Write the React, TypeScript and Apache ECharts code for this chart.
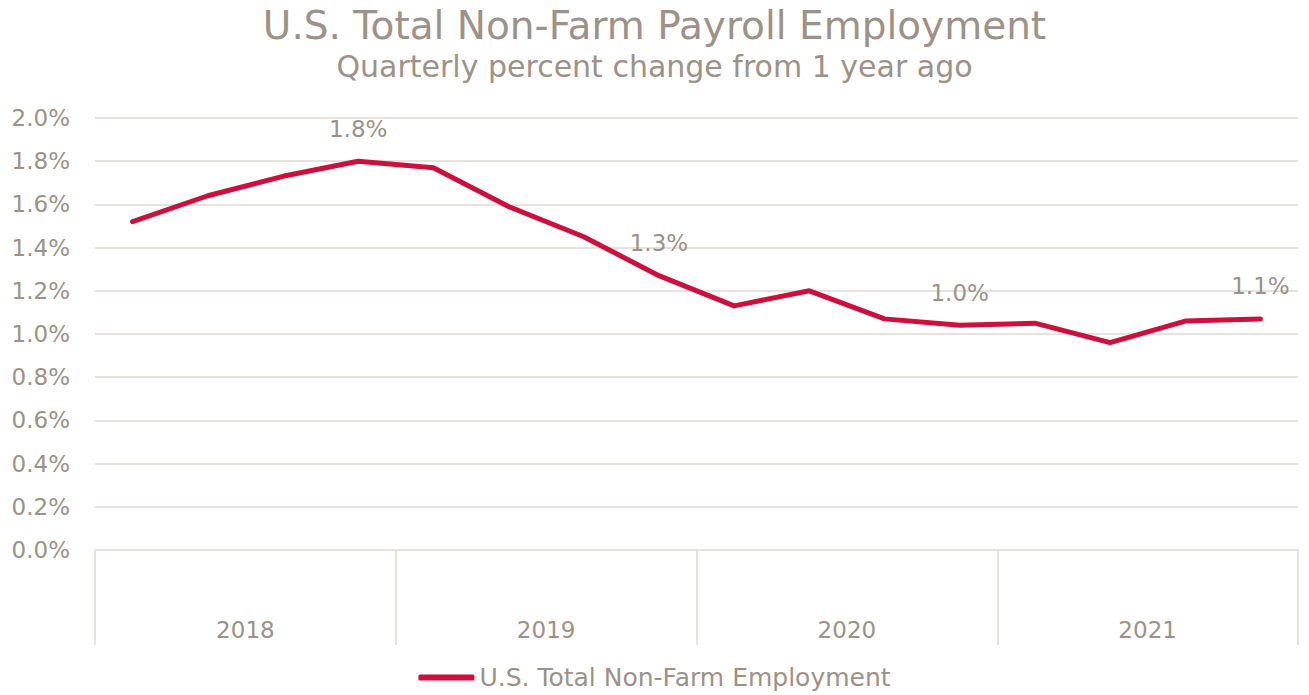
import React, { useEffect, useRef } from "react";
import * as echarts from "echarts";

const quarters = [
  "2018 Q1", "2018 Q2", "2018 Q3", "2018 Q4",
  "2019 Q1", "2019 Q2", "2019 Q3", "2019 Q4",
  "2020 Q1", "2020 Q2", "2020 Q3", "2020 Q4",
  "2021 Q1", "2021 Q2", "2021 Q3", "2021 Q4",
];
const years = ["2018", "2019", "2020", "2021"];
const employment = [
  1.52, 1.64, 1.73, 1.80,
  1.77, 1.59, 1.45, 1.27,
  1.13, 1.20, 1.07, 1.04,
  1.05, 0.96, 1.06, 1.07,
];
const labeledIdx = [3, 7, 11, 15];

const TEXT = "#9C9287";
const GRID = "#E6E3DE";
const RED = "#CE0F3D";
const FONT = "DejaVu Sans";
const W = 400;

export default function App() {
  const ref = useRef<HTMLDivElement>(null);
  useEffect(() => {
    if (!ref.current) return;
    const chart = echarts.init(ref.current, undefined, { renderer: "svg" });
    chart.setOption({
      animation: false,
      textStyle: { fontFamily: FONT, color: TEXT, fontWeight: W },
      title: {
        text: "U.S. Total Non-Farm Payroll Employment",
        subtext: "Quarterly percent change from 1 year ago",
        left: "center",
        top: 1,
        itemGap: 6,
        textStyle: { fontFamily: FONT, fontSize: 39, fontWeight: W, color: TEXT },
        subtextStyle: { fontFamily: FONT, fontSize: 30, fontWeight: W, color: TEXT },
      },
      grid: { left: 95, right: 11, top: 118, bottom: 145, containLabel: false },
      legend: {
        bottom: 0,
        left: "center",
        icon: "roundRect",
        itemWidth: 56,
        itemHeight: 6,
        textStyle: { fontFamily: FONT, fontSize: 25, fontWeight: W, color: TEXT },
        data: ["U.S. Total Non-Farm Employment"],
      },
      xAxis: [
        {
          type: "category",
          data: quarters,
          boundaryGap: true,
          axisLine: { show: true, lineStyle: { color: GRID, width: 2 } },
          axisTick: { show: false },
          axisLabel: { show: false },
          splitLine: { show: false },
        },
        {
          type: "category",
          data: years,
          position: "bottom",
          boundaryGap: true,
          axisLine: { show: false },
          axisTick: { show: true, length: 95, interval: 0, lineStyle: { color: GRID, width: 2 } },
          axisLabel: { show: true, margin: 68, fontSize: 23, fontWeight: W, color: TEXT, fontFamily: FONT },
          splitLine: { show: false },
        },
      ],
      yAxis: {
        type: "value",
        min: 0,
        max: 2,
        interval: 0.2,
        axisLine: { show: false },
        axisTick: { show: false },
        axisLabel: {
          fontSize: 23,
          fontWeight: W,
          color: TEXT,
          fontFamily: FONT,
          margin: 25,
          formatter: (v: number) => v.toFixed(1) + "%",
        },
        splitLine: { lineStyle: { color: GRID, width: 2 } },
      },
      series: [
        {
          name: "U.S. Total Non-Farm Employment",
          type: "line",
          xAxisIndex: 0,
          data: employment.map((v, i) => ({
            value: v,
            label: {
              show: labeledIdx.includes(i),
              position: "top",
              distance: 21,
              formatter: (p: any) => Number(p.value).toFixed(1) + "%",
              fontSize: 23,
              fontWeight: W,
              color: TEXT,
              fontFamily: FONT,
            },
          })),
          symbol: "circle",
          symbolSize: 0,
          showSymbol: true,
          showAllSymbol: true,
          lineStyle: { color: RED, width: 5, cap: "round", join: "round" },
          itemStyle: { color: RED },
        },
      ],
    });
    return () => chart.dispose();
  }, []);
  return <div ref={ref} style={{ width: 1309, height: 695, position: "absolute", left: 0, top: 0 }} />;
}
